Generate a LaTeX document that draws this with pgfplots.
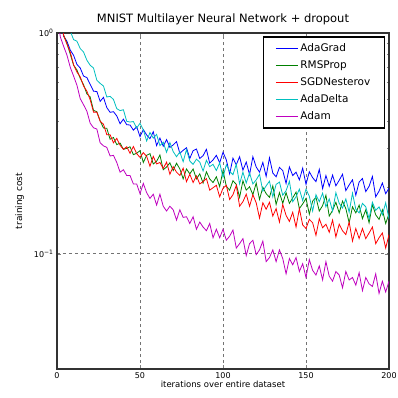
\documentclass[border=0pt]{standalone}
\usepackage{pgfplots}
\pgfplotsset{compat=1.18}
\usepackage{pgfplotstable}
\usepackage{fontspec}
\setmainfont{DejaVu Sans}
\definecolor{mb}{rgb}{0,0,1}
\definecolor{mg}{rgb}{0,0.5,0}
\definecolor{mr}{rgb}{1,0,0}
\definecolor{mc}{rgb}{0,0.75,0.75}
\definecolor{mm}{rgb}{0.75,0,0.75}
\pgfplotstableread{
x adagrad rmsprop sgdn adadelta adam
0 1.5 1.6 1.55 2.0 1.25
2 1.15 1.19 1.22 1.62 0.96
4 0.966 0.978 0.975 1.35 0.87
6 0.918 0.898 0.89 1.143 0.794
8 0.837 0.802 0.819 1.02 0.699
10 0.792 0.715 0.717 0.933 0.638
12 0.721 0.680 0.666 0.918 0.580
14 0.694 0.623 0.633 0.850 0.504
16 0.638 0.583 0.575 0.820 0.473
18 0.628 0.530 0.545 0.753 0.442
20 0.585 0.513 0.498 0.714 0.390
22 0.545 0.446 0.438 0.694 0.372
24 0.543 0.440 0.438 0.611 0.367
26 0.490 0.400 0.398 0.591 0.318
28 0.511 0.371 0.386 0.575 0.308
30 0.459 0.370 0.346 0.513 0.303
32 0.437 0.330 0.346 0.516 0.277
34 0.440 0.336 0.318 0.500 0.279
36 0.421 0.312 0.333 0.454 0.259
38 0.388 0.317 0.310 0.445 0.234
40 0.407 0.297 0.297 0.449 0.240
42 0.384 0.300 0.305 0.398 0.226
44 0.383 0.305 0.285 0.395 0.226
46 0.363 0.281 0.306 0.397 0.207
48 0.376 0.285 0.284 0.371 0.207
50 0.339 0.293 0.273 0.390 0.187
52 0.365 0.259 0.287 0.364 0.208
54 0.345 0.279 0.276 0.324 0.189
56 0.332 0.284 0.249 0.354 0.178
58 0.357 0.255 0.276 0.334 0.186
60 0.309 0.262 0.255 0.347 0.166
62 0.334 0.280 0.259 0.309 0.186
64 0.307 0.240 0.243 0.320 0.164
66 0.329 0.247 0.260 0.288 0.156
68 0.303 0.258 0.229 0.319 0.164
70 0.311 0.238 0.248 0.290 0.158
72 0.322 0.257 0.234 0.275 0.142
74 0.285 0.242 0.226 0.289 0.158
76 0.294 0.218 0.244 0.261 0.146
78 0.302 0.242 0.212 0.296 0.147
80 0.270 0.230 0.229 0.263 0.137
82 0.293 0.242 0.210 0.254 0.147
84 0.298 0.218 0.225 0.268 0.129
86 0.270 0.230 0.207 0.260 0.139
88 0.278 0.209 0.212 0.237 0.132
90 0.297 0.235 0.219 0.265 0.127
92 0.257 0.218 0.194 0.248 0.137
94 0.266 0.210 0.199 0.254 0.118
96 0.279 0.223 0.204 0.238 0.129
98 0.258 0.201 0.181 0.258 0.118
100 0.288 0.238 0.198 0.222 0.129
102 0.266 0.202 0.204 0.253 0.115
104 0.230 0.194 0.176 0.236 0.120
106 0.271 0.214 0.185 0.228 0.128
108 0.253 0.206 0.204 0.254 0.106
110 0.275 0.180 0.164 0.207 0.111
112 0.239 0.214 0.172 0.234 0.117
114 0.260 0.194 0.186 0.209 0.098
116 0.228 0.201 0.164 0.232 0.111
118 0.275 0.185 0.185 0.207 0.115
120 0.247 0.209 0.170 0.216 0.099
122 0.234 0.176 0.145 0.229 0.104
124 0.259 0.200 0.170 0.192 0.114
126 0.224 0.187 0.159 0.203 0.092
128 0.272 0.180 0.171 0.213 0.096
130 0.232 0.203 0.148 0.181 0.104
132 0.223 0.167 0.160 0.206 0.092
134 0.246 0.189 0.139 0.211 0.104
136 0.238 0.169 0.167 0.184 0.095
138 0.208 0.189 0.149 0.193 0.081
140 0.247 0.169 0.140 0.213 0.095
142 0.226 0.179 0.154 0.172 0.089
144 0.234 0.190 0.132 0.181 0.096
146 0.216 0.160 0.160 0.196 0.083
148 0.244 0.168 0.135 0.174 0.090
150 0.206 0.178 0.130 0.196 0.078
152 0.235 0.151 0.143 0.182 0.094
154 0.221 0.173 0.138 0.156 0.084
156 0.212 0.180 0.121 0.185 0.080
158 0.241 0.156 0.144 0.172 0.088
160 0.197 0.165 0.131 0.188 0.076
162 0.226 0.184 0.136 0.163 0.092
164 0.202 0.148 0.125 0.177 0.079
166 0.227 0.157 0.142 0.156 0.075
168 0.203 0.171 0.119 0.189 0.083
170 0.215 0.153 0.136 0.169 0.080
172 0.229 0.173 0.127 0.161 0.070
174 0.193 0.160 0.122 0.177 0.083
176 0.205 0.138 0.139 0.154 0.076
178 0.216 0.163 0.114 0.188 0.078
180 0.184 0.153 0.130 0.159 0.072
182 0.211 0.166 0.117 0.153 0.082
184 0.219 0.144 0.130 0.169 0.068
186 0.191 0.158 0.117 0.163 0.078
188 0.202 0.138 0.124 0.144 0.073
190 0.224 0.167 0.132 0.171 0.071
192 0.181 0.150 0.111 0.157 0.081
194 0.192 0.143 0.118 0.163 0.066
196 0.209 0.158 0.124 0.150 0.075
198 0.187 0.137 0.106 0.170 0.067
200 0.198 0.152 0.122 0.144 0.075
}\data
\begin{document}
\begin{tikzpicture}
\begin{axis}[
  scale only axis, width=332pt, height=336pt,
  xmin=0, xmax=200, ymode=log, ymin=0.03, ymax=1,
  xtick={0,50,100,150,200},
  ytick={0.1,1}, yticklabels={10\textsuperscript{−1},10\textsuperscript{0}},
  /pgf/number format/assume math mode=true,
  tick label style={font=\fontsize{8}{9}\selectfont},
  tick align=inside,
  axis line style={line width=1.2pt, black!80},
  major tick length=4pt, minor tick length=2pt,
  grid=major, major grid style={dashed, black!55, line width=0.5pt},
  title={MNIST Multilayer Neural Network + dropout},
  title style={font=\fontsize{11.5}{13}\selectfont, yshift=-1pt},
  xlabel={iterations over entire dataset},
  ylabel={training cost},
  xlabel style={font=\fontsize{8.5}{10}\selectfont, yshift=4pt},
  ylabel style={font=\fontsize{9}{10}\selectfont, yshift=3pt},
  legend style={at={(0.988,0.99)}, anchor=north east, draw=black, line width=1.3pt,
    font=\fontsize{10.5}{12}\selectfont, row sep=3.5pt, inner xsep=12pt, inner ysep=5pt},
  legend cell align=left,
  legend image code/.code={\draw[#1, line width=0.9pt] (0pt,0pt) -- (22pt,0pt);},
  every axis plot/.append style={line width=0.8pt},
]
\addplot[mb] table[x=x, y=adagrad] {\data};
\addlegendentry{AdaGrad}
\addplot[mg] table[x=x, y=rmsprop] {\data};
\addlegendentry{RMSProp}
\addplot[mr] table[x=x, y=sgdn] {\data};
\addlegendentry{SGDNesterov}
\addplot[mc] table[x=x, y=adadelta] {\data};
\addlegendentry{AdaDelta}
\addplot[mm] table[x=x, y=adam] {\data};
\addlegendentry{Adam}
\end{axis}
\pgfresetboundingbox
\path (current axis.south west) ++(-57pt,-28pt) coordinate (bl);
\path (current axis.north east) ++(9pt,33pt) coordinate (tr);
\path[use as bounding box] (bl) rectangle (tr);
\end{tikzpicture}
\end{document}
